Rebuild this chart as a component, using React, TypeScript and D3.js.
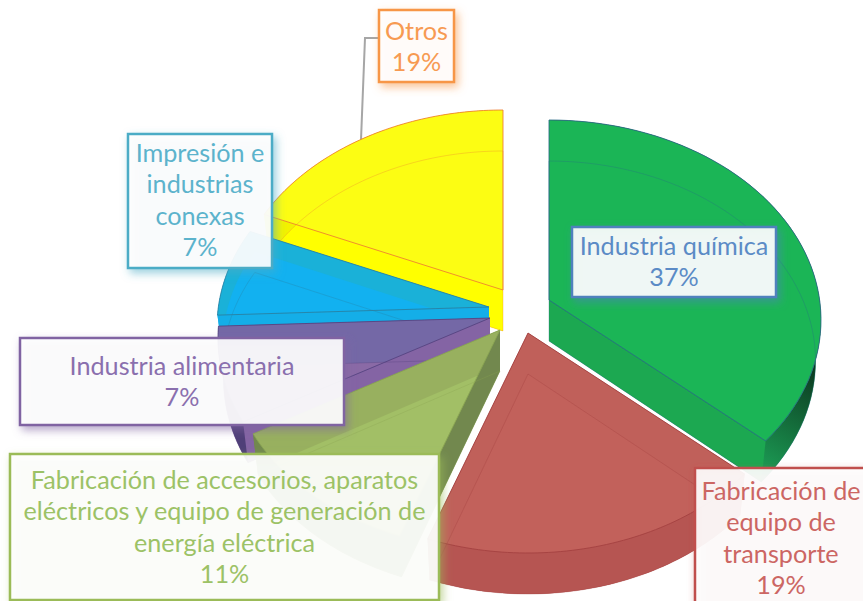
import React from "react";
import * as d3 from "d3";

const categories = ["Industria química", "Fabricación de equipo de transporte", "Fabricación de accesorios, aparatos eléctricos y equipo de generación de energía eléctrica", "Industria alimentaria", "Impresión e industrias conexas", "Otros"];
const shares = [37, 19, 11, 7, 7, 19];
const labelLines = [
  ["Industria química", "37%"],
  ["Fabricación de", "equipo de", "transporte", "19%"],
  ["Fabricación de accesorios, aparatos", "eléctricos y equipo de generación de", "energía eléctrica", "11%"],
  ["Industria alimentaria", "7%"],
  ["Impresión e", "industrias", "conexas", "7%"],
  ["Otros", "19%"],
];

const RX = 272, RY = 200, DROP = 20, H = 41, BOTTOM_SCALE = 0.98;
const rad = Math.PI / 180;
const warp = d3.scaleLinear()
  .domain([0, 90, 133, 201, 241, 266, 291, 360].map((d) => d * rad))
  .range([0, -6, -6, 0, 4, 7, 7, 0].map((d) => d * rad));
const apexes = [[549, 300], [528, 333], [500, 330], [490, 318], [489, 307], [503, 290]];
const faceDepth = [41, 41, 36, 41, 20, 41];
const palette = [
  { band: "#1BB556", face: "#1BB556", wall: "#1CA851", rim: "url(#greenRim)", line: "#2A6A86" },
  { band: "#C0605A", face: "#C2615B", wall: "#B65552", rim: "#B65552", line: "#A23F3F" },
  { band: "#98B05F", face: "#A2BF66", wall: "#72884E", rim: "#72884E", line: "#8AA552" },
  { band: "#7468A6", face: "#8A6AA6", wall: "#8464A4", rim: "#4F3F78", line: "#54427F" },
  { band: "#1AB1D8", face: "#12B1F0", wall: "#14AEE8", rim: "#14AEE8", line: "#2A7FA0" },
  { band: "#FCFD13", face: "#FCFD13", wall: "#FFFF00", rim: "#F2F200", line: "#ED7D31" },
];
const boxes = [
  { x: 572, y: 227, w: 204, h: 70, c: "#4F81BD", t: "#5B8BC6", base: 255 },
  { x: 695, y: 468, w: 180, h: 150, c: "#C0504D", t: "#CC6663", base: 500, cx: 781 },
  { x: 10, y: 454, w: 429, h: 146, c: "#9BBB59", t: "#9CC266", base: 489 },
  { x: 20, y: 338, w: 324, h: 87, c: "#8064A2", t: "#8A6FAE", base: 375 },
  { x: 128, y: 134, w: 144, h: 134, c: "#4BACC6", t: "#5CB3CC", base: 162 },
  { x: 379, y: 10, w: 75, h: 72, c: "#F79646", t: "#F79A52", base: 40 },
];
const drawOrder = [5, 4, 3, 2, 1, 0];
const labelOrder = [5, 4, 3, 2, 1, 0];

const arcs = d3.pie<number>().sort(null).value((d) => d)(shares);
const line = d3.line<[number, number]>().x((d) => d[0]).y((d) => d[1]);

function rimPoint(i: number, a: number, dy = 0): [number, number] {
  const t = a + warp(a);
  const [ax, ay] = apexes[i];
  const rx = dy > 0 ? RX * BOTTOM_SCALE : RX;
  return [ax + rx * Math.sin(t), ay + DROP - RY * Math.cos(t) + dy];
}
function rim(i: number, dy = 0): [number, number][] {
  const { startAngle: s, endAngle: e } = arcs[i];
  return d3.range(0, 61).map((k) => rimPoint(i, s + ((e - s) * k) / 60, dy));
}
function face(i: number, dy = 0): string {
  const [ax, ay] = apexes[i];
  const apex: [number, number] = [ax, ay + dy];
  return line([apex, ...rim(i, dy), apex]) + "Z";
}
function ribbon(i: number): string {
  const top = rim(i, 0), bottom = rim(i, H).reverse();
  return line([...top, ...bottom]) + "Z";
}
function side(i: number, end: number): string {
  const [ax, ay] = apexes[i];
  const r = rim(i, 0)[end === 0 ? 0 : 60];
  const b = rim(i, H)[end === 0 ? 0 : 60];
  return line([[ax, ay], r, b, [ax, ay + H]]) + "Z";
}

export default function App() {
  return (
    <svg width={863} height={601} viewBox="0 0 863 601" style={{ position: "absolute", left: 0, top: 0, background: "#fff" }}>
      <defs>
        <linearGradient id="greenRim" gradientUnits="userSpaceOnUse" x1={758} x2={818} y1={470} y2={370}>
          <stop offset="0" stopColor="#1C9D55" />
          <stop offset="1" stopColor="#0C3A20" />
        </linearGradient>
        {drawOrder.map((i) => (
          <clipPath id={`top${i}`} key={i}><path d={face(i)} /></clipPath>
        ))}
        {boxes.map((b, i) => (
          <filter id={`sh${i}`} key={i} x="-20%" y="-20%" width="140%" height="140%">
            <feDropShadow dx={3} dy={4} stdDeviation={4} floodColor={b.c} floodOpacity={0.6} />
          </filter>
        ))}
      </defs>

      <path d={d3.line()([[361, 140], [365, 38], [379, 38]]) as string} fill="none" stroke="#A6A6A6" strokeWidth={2} />

      {drawOrder.map((i) => {
        const p = palette[i];
        return (
          <g key={categories[i]}>
            <path d={face(i, H)} fill={p.wall} />
            <path d={side(i, 0)} fill={p.wall} />
            <path d={side(i, 1)} fill={p.wall} />
            <path d={ribbon(i)} fill={p.rim} />
            <path d={face(i)} fill={p.band} />
            <path d={face(i, faceDepth[i])} fill={p.face} clipPath={`url(#top${i})`} />
            <path d={face(i, H)} fill="none" stroke={p.line} strokeWidth={0.8} strokeOpacity={0.4} />
            <path d={face(i)} fill="none" stroke={p.line} strokeWidth={1} strokeOpacity={0.85} />
          </g>
        );
      })}

      {labelOrder.map((i) => {
        const b = boxes[i];
        const cx = b.cx ?? b.x + b.w / 2;
        return (
          <g key={i}>
            <rect x={b.x} y={b.y} width={b.w} height={b.h} fill="#fff" fillOpacity={0.9} stroke={b.c} strokeWidth={2.5} filter={`url(#sh${i})`} />
            <text textAnchor="middle" fontFamily="Lato, 'Open Sans', sans-serif" fontSize={25.2} fill={b.t}>
              {labelLines[i].map((l, k) => (
                <tspan key={k} x={cx} y={b.base + k * 31.4}>{l}</tspan>
              ))}
            </text>
          </g>
        );
      })}
    </svg>
  );
}
